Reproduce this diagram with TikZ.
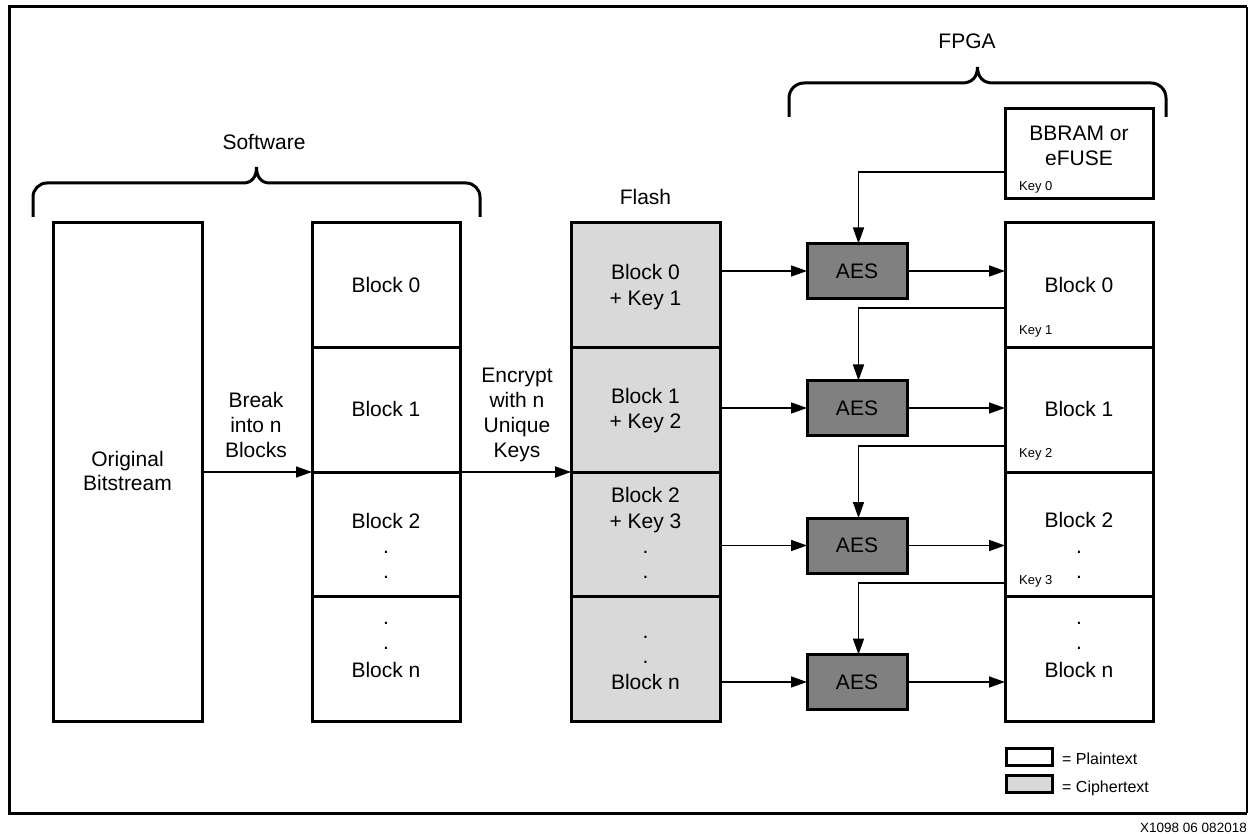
\documentclass[tikz,border=0pt]{standalone}
\usepackage{fontspec}
\setmainfont{Liberation Sans}
\usetikzlibrary{arrows.meta}
\definecolor{cipher}{HTML}{D9D9D9}
\definecolor{aesgray}{HTML}{808080}
\begin{document}
\begin{tikzpicture}[x=1pt,y=-1pt,
  box/.style={draw, line width=3pt, inner sep=0pt, outer sep=0pt, fill=white},
  blk/.style={box, minimum width=148pt, minimum height=124.5pt},
  fblk/.style={box, fill=cipher, minimum width=149pt, minimum height=124.5pt},
  aes/.style={box, fill=aesgray, minimum width=100pt, minimum height=55pt, font=\fontsize{21}{25}\selectfont},
  txt/.style={inner sep=0pt, font=\fontsize{21}{25}\selectfont, anchor=base},
  keytxt/.style={inner sep=0pt, font=\fontsize{13}{15}\selectfont, anchor=base west},
  legtxt/.style={inner sep=0pt, font=\fontsize{16}{19}\selectfont, anchor=base west},
  conn/.style={line width=1.5pt},
  arr/.style={conn, -{Triangle[length=16pt,width=11pt]}},
  bracestyle/.style={line width=3pt}
]
\useasboundingbox (0,0) rectangle (1251,834);
% frame
\draw[line width=3pt] (1247,7) -- (9,7) -- (9,813) -- (1247,813);
\draw[line width=1.5pt] (1247,7) -- (1247,813);

% braces
\draw[bracestyle, rounded corners=14pt] (33,217) -- (33,183) -- (243,183);
\draw[bracestyle] (243,183) .. controls (252,183) and (256.5,177) .. (256.5,167) .. controls (256.5,177) and (261,183) .. (270,183);
\draw[bracestyle, rounded corners=14pt] (270,183) -- (480,183) -- (480,217);
\draw[bracestyle, rounded corners=15pt] (789,117) -- (789,83) -- (962,83);
\draw[bracestyle] (962,83) .. controls (972,83) and (977.5,77) .. (977.5,67) .. controls (977.5,77) and (983,83) .. (993,83);
\draw[bracestyle, rounded corners=15pt] (993,83) -- (1166,83) -- (1166,117);

% boxes
\node[box, minimum width=149pt, minimum height=498pt] (orig) at (127.5,472) {};
\node[blk] (b0) at (386,285.25) {};
\node[blk] (b1) at (386,409.75) {};
\node[blk] (b2) at (386,534.25) {};
\node[blk] (b3) at (386,658.75) {};
\node[fblk] (f0) at (645.5,285.25) {};
\node[fblk] (f1) at (645.5,409.75) {};
\node[fblk] (f2) at (645.5,534.25) {};
\node[fblk] (f3) at (645.5,658.75) {};
\node[blk] (r0) at (1079,285.25) {};
\node[blk] (r1) at (1079,409.75) {};
\node[blk] (r2) at (1079,534.25) {};
\node[blk] (r3) at (1079,658.75) {};
\node[box, minimum width=148pt, minimum height=90pt] (bb) at (1079,154) {};
\node[aes] (a0) at (857,271) {AES};
\node[aes] (a1) at (857,408) {AES};
\node[aes] (a2) at (857,545.5) {AES};
\node[aes] (a3) at (857,682) {AES};

% titles
\node[txt] (tsw) at (264,149.5) {Software};
\node[txt] (tfpga) at (967,48.5) {FPGA};
\node[txt] (tflash) at (645.5,204.5) {Flash};

% original bitstream
\node[txt] (to1) at (127.5,466) {Original};
\node[txt] (to2) at (127.5,490.5) {Bitstream};

% break / encrypt labels
\node[txt] (tbr1) at (256,407) {Break};
\node[txt] (tbr2) at (256,432) {into n};
\node[txt] (tbr3) at (256,457) {Blocks};
\node[txt] (ten1) at (517,382) {Encrypt};
\node[txt] (ten2) at (517,407) {with n};
\node[txt] (ten3) at (517,432) {Unique};
\node[txt] (ten4) at (517,457) {Keys};

% software blocks text
\node[txt] (tb0) at (386,292.5) {Block 0};
\node[txt] (tb1) at (386,417) {Block 1};
\node[txt] (tb2) at (386,528.5) {Block 2};
\node[txt] (tb2a) at (386,553) {.};
\node[txt] (tb2b) at (386,578) {.};
\node[txt] (tb3a) at (386,624) {.};
\node[txt] (tb3b) at (386,649) {.};
\node[txt] (tb3) at (386,677.5) {Block n};

% flash text
\node[txt] (tf0) at (645.5,279.5) {Block 0};
\node[txt] (tf0k) at (645.5,305.5) {+ Key 1};
\node[txt] (tf1) at (645.5,403.5) {Block 1};
\node[txt] (tf1k) at (645.5,428.5) {+ Key 2};
\node[txt] (tf2) at (645.5,502.5) {Block 2};
\node[txt] (tf2k) at (645.5,528.5) {+ Key 3};
\node[txt] (tf2a) at (645.5,553) {.};
\node[txt] (tf2b) at (645.5,578) {.};
\node[txt] (tf3a) at (645.5,638) {.};
\node[txt] (tf3b) at (645.5,663) {.};
\node[txt] (tf3) at (645.5,689.5) {Block n};

% fpga blocks text
\node[txt] (tr0) at (1079,292.5) {Block 0};
\node[txt] (tr1) at (1079,417) {Block 1};
\node[txt] (tr2) at (1079,527.5) {Block 2};
\node[txt] (tr2a) at (1079,553) {.};
\node[txt] (tr2b) at (1079,578) {.};
\node[txt] (tr3a) at (1079,624) {.};
\node[txt] (tr3b) at (1079,649) {.};
\node[txt] (tr3) at (1079,677.5) {Block n};

% bbram text
\node[txt] (tbb1) at (1079,140.5) {BBRAM or};
\node[txt] (tbb2) at (1079,165.5) {eFUSE};

% key labels
\node[keytxt] (tk0) at (1019,190.5) {Key 0};
\node[keytxt] (tk1) at (1019,334.5) {Key 1};
\node[keytxt] (tk2) at (1019,457.5) {Key 2};
\node[keytxt] (tk3) at (1019,584.5) {Key 3};

% main arrows
\draw[arr] (orig.east) -- (b1.south west);
\draw[arr] (b1.south east) -- (f1.south west);
\draw[arr] (a0.west -| f0.east) -- (a0.west);
\draw[arr] (a1.west -| f1.east) -- (a1.west);
\draw[arr] (a2.west -| f2.east) -- (a2.west);
\draw[arr] (a3.west -| f3.east) -- (a3.west);
\draw[arr] ([xshift=2pt]a0.east) -- (a0.east -| r0.west);
\draw[arr] ([xshift=2pt]a1.east) -- (a1.east -| r1.west);
\draw[arr] ([xshift=2pt]a2.east) -- (a2.east -| r2.west);
\draw[arr] ([xshift=2pt]a3.east) -- (a3.east -| r3.west);

% key connectors
\coordinate (k0) at (1005,172);
\coordinate (k1) at (1005,308);
\coordinate (k2) at (1005,446);
\coordinate (k3) at (1005,583);
\draw[arr] (k0) -| ([xshift=1.5pt]a0.north);
\draw[arr] (k1) -| ([xshift=1.5pt]a1.north);
\draw[arr] (k2) -| ([xshift=1.5pt]a2.north);
\draw[arr] (k3) -| ([xshift=1.5pt]a3.north);

% legend
\node[box, minimum width=46pt, minimum height=17pt] (lp) at (1029,756.5) {};
\node[box, fill=cipher, minimum width=46pt, minimum height=17pt] (lc) at (1029,783.5) {};
\node[legtxt] (tlp) at (1062,764.5) {= Plaintext};
\node[legtxt] (tlc) at (1062,792.5) {= Ciphertext};

% figure id
\node[inner sep=0pt, anchor=base east, font=\fontsize{13.5}{16}\selectfont] (tid) at (1247,832.5) {X1098\ 06\ 082018};
\end{tikzpicture}
\end{document}
